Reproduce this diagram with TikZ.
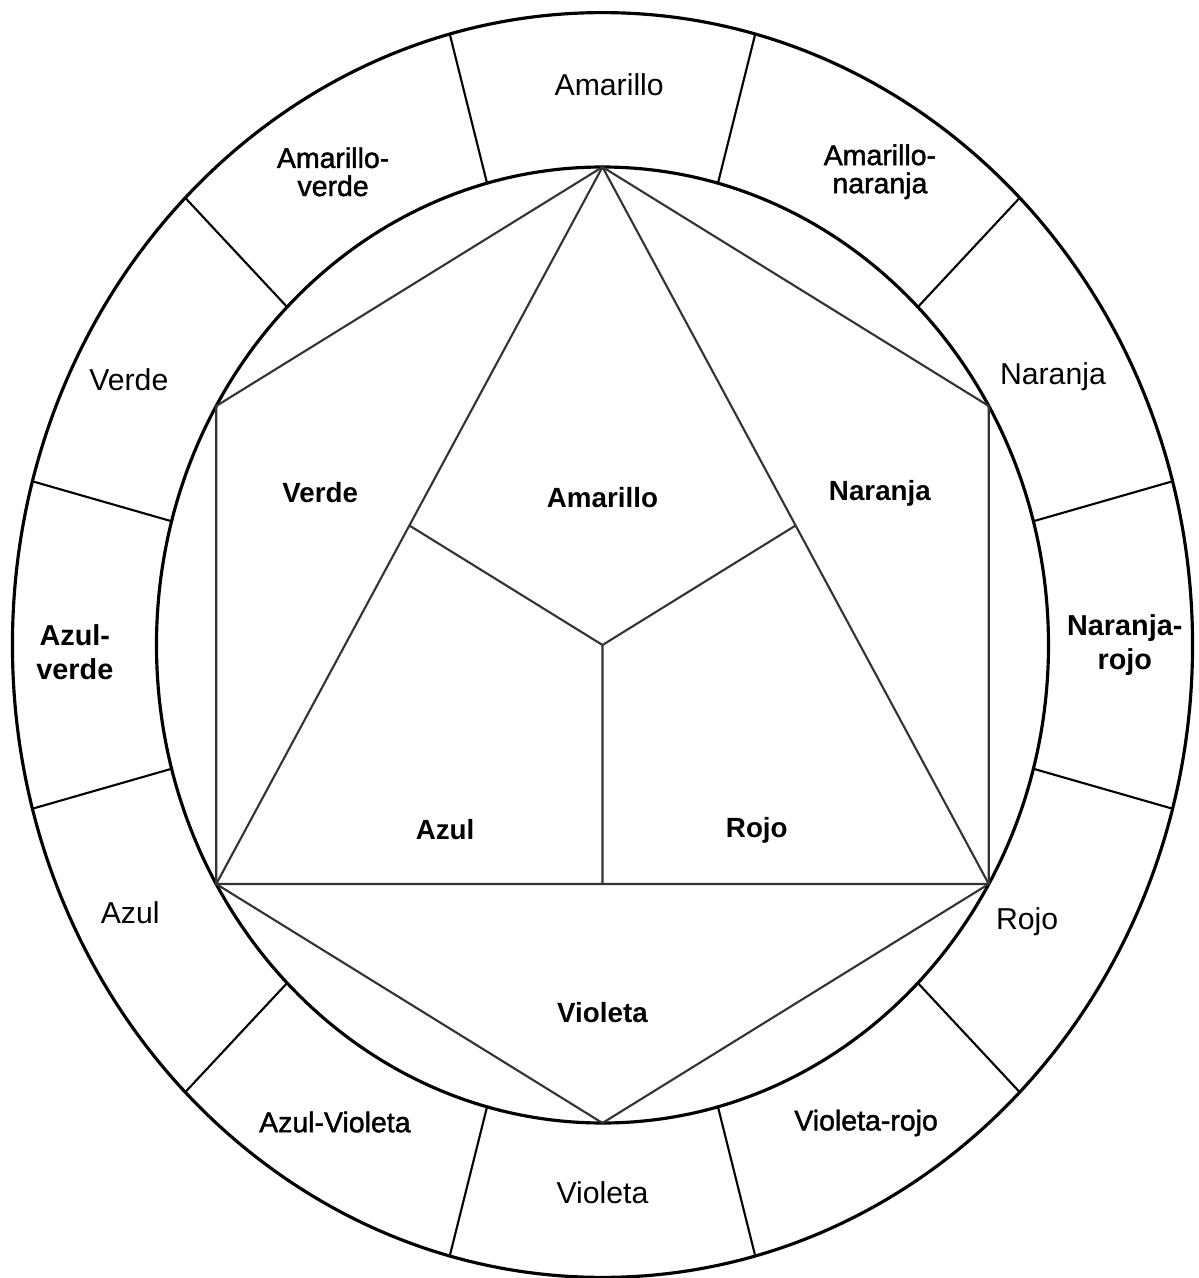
\documentclass[tikz,border=0pt]{standalone}
\usepackage{fontspec}
\setmainfont{Liberation Sans}
\newfontfamily\semibold[FakeBold=1.5]{Liberation Sans}
\usepackage{tikz}

\begin{document}
\begin{tikzpicture}[x=4.46cm,y=4.78cm,line width=0.6pt,
        ring/.style={line width=0.9pt},
        part/.style={draw=black!80},
        outer label/.style={font=\fontsize{8.6}{10}\selectfont},
        mixed label/.style={align=center,font=\semibold\fontsize{8.1}{8}\selectfont},
        bold label/.style={align=center,font=\bfseries\fontsize{8.2}{9.6}\selectfont},
        inner label/.style={font=\bfseries\fontsize{7.9}{9}\selectfont}]

    \useasboundingbox (-6.025cm,-6.33cm) rectangle (5.965cm,6.45cm);

    \draw[ring] (0,0) circle (1);
    \draw[ring] (0,0) circle (1.323);
    \foreach \a in {15,45,...,345}
        \draw (\a:1) -- (\a:1.323);

    \coordinate (o) at (0,0);
    \coordinate (1) at (90:1);
    \coordinate (2) at (150:1);
    \coordinate (3) at (210:1);
    \coordinate (4) at (270:1);
    \coordinate (5) at (330:1);
    \coordinate (6) at (30:1);
    \coordinate (m1) at (150:0.5);
    \coordinate (m2) at (30:0.5);
    \coordinate (m3) at (270:0.5);

    \draw[part] (1) -- (2) -- (3) -- (4) -- (5) -- (6) -- cycle;
    \draw[part] (1) -- (3) -- (5) -- cycle;
    \draw[part] (o) -- (m1)
        (o) -- (m2)
        (o) -- (m3);

    \node[outer label] (amarillo) at (0.015,1.172) {Amarillo};
    \node[mixed label] (amaverde) at (-0.604,0.99) {Amarillo-\\verde};
    \node[mixed label] (amanaranja) at (0.622,0.99) {Amarillo-\\naranja};
    \node[outer label] (verde) at (-1.062,0.554) {Verde};
    \node[outer label] (naranja) at (1.01,0.561) {Naranja};
    \node[bold label] (azulverde) at (-1.183,-0.015) {Azul-\\verde};
    \node[bold label] (naranjarojo) at (1.171,0) {Naranja-\\rojo};
    \node[outer label] (azul) at (-1.059,-0.559) {Azul};
    \node[outer label] (rojo) at (0.952,-0.579) {Rojo};
    \node[mixed label] (azulvioleta) at (-0.6,-0.998) {Azul-Violeta};
    \node[mixed label] (violetarojo) at (0.591,-1.0) {Violeta-rojo};
    \node[outer label] (violeta) at (0,-1.146) {Violeta};

    \node[inner label] (iverde) at (-0.633,0.318) {Verde};
    \node[inner label] (iamarillo) at (0,0.308) {Amarillo};
    \node[inner label] (inaranja) at (0.622,0.318) {Naranja};
    \node[inner label] (iazul) at (-0.353,-0.387) {Azul};
    \node[inner label] (irojo) at (0.346,-0.387) {Rojo};
    \node[inner label] (ivioleta) at (0,-0.77) {Violeta};

\end{tikzpicture}
\end{document}
